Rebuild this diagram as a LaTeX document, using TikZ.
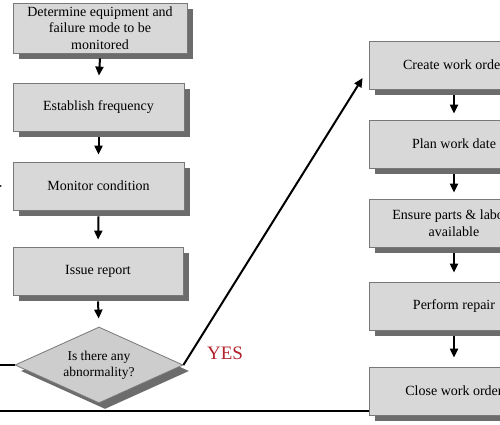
\documentclass[tikz,border=0pt]{standalone}
\usepackage{fontspec}
\setmainfont{Liberation Serif}
\usetikzlibrary{shapes.geometric,arrows.meta,shadows}
\definecolor{boxfill}{RGB}{216,216,216}
\definecolor{boxline}{RGB}{120,120,120}
\definecolor{shadowgray}{RGB}{108,108,108}
\definecolor{diafill}{RGB}{205,205,205}
\definecolor{answerred}{RGB}{178,34,44}
\begin{document}
\begin{tikzpicture}[x=1pt,y=-1pt,
  stepbox/.style={rectangle, draw=boxline, line width=0.8pt, fill=boxfill,
    minimum width=171pt, minimum height=48pt, inner sep=2pt, align=center,
    font=\fontsize{14}{16.5}\selectfont,
    drop shadow={shadow xshift=6pt, shadow yshift=-6pt, fill=shadowgray, opacity=1}},
  decision/.style={diamond, aspect=2.2, draw=boxline, line width=0.8pt, fill=diafill,
    minimum width=168pt, minimum height=76pt, inner sep=0pt, align=center,
    font=\fontsize{13.5}{16}\selectfont,
    drop shadow={shadow xshift=6pt, shadow yshift=-6pt, fill=shadowgray, opacity=1}},
  flow/.style={line width=2pt, -{Triangle[width=8pt,length=9pt]}},
  plain/.style={line width=2pt},
  answer/.style={text=answerred, font=\fontsize{19}{22}\selectfont}]
\useasboundingbox (0,0) rectangle (500,425);
\fill[white] (0,0) rectangle (500,425);

% left column
\node[stepbox, minimum width=174pt, minimum height=50pt] (b1) at (100,28)
  {Determine equipment and\\failure mode to be\\monitored};
\node[stepbox] (b2) at (98.5,107) {Establish frequency};
\node[stepbox] (b3) at (98.5,186) {Monitor condition};
\node[stepbox, minimum width=170pt] (b4) at (98,271) {Issue report};
\node[decision] (dia) at (99,365) {Is there any\\abnormality?};

% right column
\node[stepbox, minimum width=170pt] (r1) at (454,65) {Create work order};
\node[stepbox, minimum width=170pt] (r2) at (454,144) {Plan work date};
\node[stepbox, minimum width=170pt] (r3) at (454,223) {Ensure parts \& labour\\available};
\node[stepbox, minimum width=170pt] (r4) at (454,306) {Perform repair};
\node[stepbox, minimum width=170pt] (r5) at (454,391) {Close work order};

% vertical arrows
\draw[flow, shorten >=7pt] ([yshift=-5pt]b1.south) -- (b2.north);
\draw[flow, shorten >=7pt] ([yshift=-6pt]b2.south) -- (b3.north);
\draw[flow, shorten >=7pt] ([yshift=-6pt]b3.south) -- (b4.north);
\draw[flow, shorten >=8pt] ([yshift=-6pt]b4.south) -- (dia.north);
\draw[flow, shorten >=6pt] ([yshift=-6pt]r1.south) -- (r2.north);
\draw[flow, shorten >=6pt] ([yshift=-6pt]r2.south) -- (r3.north);
\draw[flow, shorten >=9pt] ([yshift=-6pt]r3.south) -- (r4.north);
\draw[flow, shorten >=9pt] ([yshift=-6pt]r4.south) -- (r5.north);

% YES branch
\coordinate (yestip) at ([xshift=-6pt,yshift=-13pt]r1.west);
\draw[flow] (dia.east) -- (yestip);
\node[answer] (yes) at (225,353) {YES};

% NO branch (mostly outside the visible frame)
\coordinate (nocorner) at (-25,365);
\coordinate (noup) at (-25,186);
\coordinate (notip) at (2,186);
\draw[plain] (dia.west) -- (nocorner) -- (noup);
\draw[flow] (noup) -- (notip);
\node[answer, anchor=east] (no) at (4,350) {NO};

% return line from Close work order
\coordinate (retleft) at (-25,411);
\draw[plain] ([yshift=-20pt]r5.west) -- (retleft);
\end{tikzpicture}
\end{document}
